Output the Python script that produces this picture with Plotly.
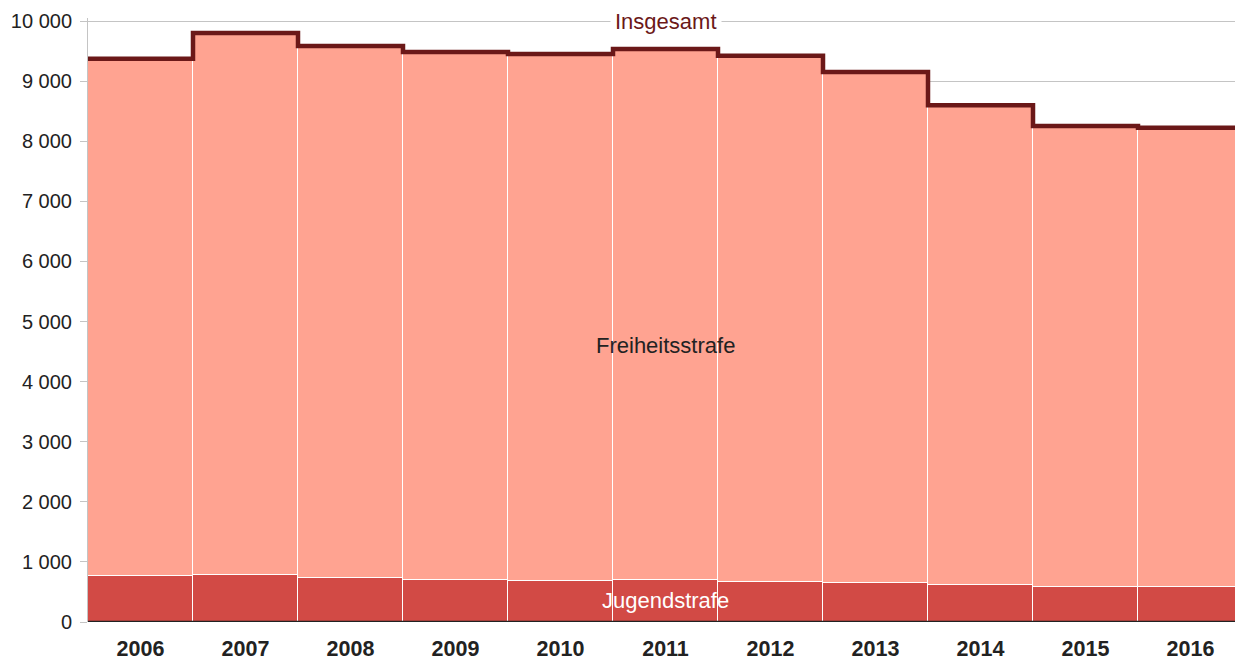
import plotly.graph_objects as go

years = [2006, 2007, 2008, 2009, 2010, 2011, 2012, 2013, 2014, 2015, 2016]
insgesamt = [9370, 9800, 9585, 9485, 9450, 9535, 9420, 9150, 8600, 8255, 8225]
jugendstrafe = [762, 778, 728, 705, 678, 705, 667, 655, 612, 588, 578]
freiheitsstrafe = [t - j for t, j in zip(insgesamt, jugendstrafe)]
y_ticks = [0, 1000, 2000, 3000, 4000, 5000, 6000, 7000, 8000, 9000, 10000]

C_JUG = "#D24A45"
C_FREI = "#FFA391"
C_TOT = "#6B1818"
FONT = "Liberation Sans, Arial, Helvetica, sans-serif"

fig = go.Figure()
fig.add_trace(go.Bar(x=years, y=jugendstrafe, width=1, name="Jugendstrafe",
                     marker=dict(color=C_JUG, line=dict(color="white", width=1.4))))
fig.add_trace(go.Bar(x=years, y=freiheitsstrafe, width=1, name="Freiheitsstrafe",
                     marker=dict(color=C_FREI, line=dict(color="white", width=1.4))))

step_x = [y - 0.5 for y in years] + [years[-1] + 0.5]
step_y = insgesamt + [insgesamt[-1]]
fig.add_trace(go.Scatter(x=step_x, y=step_y, mode="lines", line=dict(color=C_TOT, width=4.5, shape="hv"),
                         name="Insgesamt", hoverinfo="skip", cliponaxis=False))

fig.add_annotation(x=2011, y=10000, text="Insgesamt", showarrow=False, bgcolor="white",
                   font=dict(color=C_TOT, size=22, family=FONT), borderpad=4)
fig.add_annotation(x=2011, y=4600, text="Freiheitsstrafe", showarrow=False,
                   font=dict(color="#222222", size=22, family=FONT))
fig.add_annotation(x=2011, y=365, text="Jugendstrafe", showarrow=False,
                   font=dict(color="white", size=22, family=FONT))

fig.update_layout(
    width=1243, height=662,
    margin=dict(l=88, r=0, t=18, b=40, autoexpand=False),
    barmode="stack", bargap=0,
    showlegend=False,
    plot_bgcolor="white", paper_bgcolor="white",
    separators=". ",
    font=dict(family=FONT, color="#222222"),
    xaxis=dict(range=[years[0] - 0.5, years[-1] + 0.5], tickvals=years,
               ticktext=["<b>%d</b>" % y for y in years], showgrid=False,
               tickfont=dict(size=21.5), ticks="", zeroline=False, showline=False,
               automargin=False, ticklabelstandoff=11),
    yaxis=dict(range=[0, 10050], tickvals=y_ticks, tickformat=",d", showgrid=True,
               gridcolor="#c4c4c4", gridwidth=1, ticks="outside", ticklen=7,
               tickcolor="#c4c4c4", showline=True, linecolor="#c4c4c4", linewidth=1,
               tickfont=dict(size=20), zeroline=False, layer="below traces",
               automargin=False, ticklabelstandoff=4),
)
fig.add_shape(type="line", xref="paper", yref="y", x0=0, x1=1, y0=0, y1=0,
              line=dict(color="#222222", width=2.5))
fig.write_html("out.html", config={"displayModeBar": False},
               post_script="document.body.style.margin='0';document.body.style.overflow='hidden';")
